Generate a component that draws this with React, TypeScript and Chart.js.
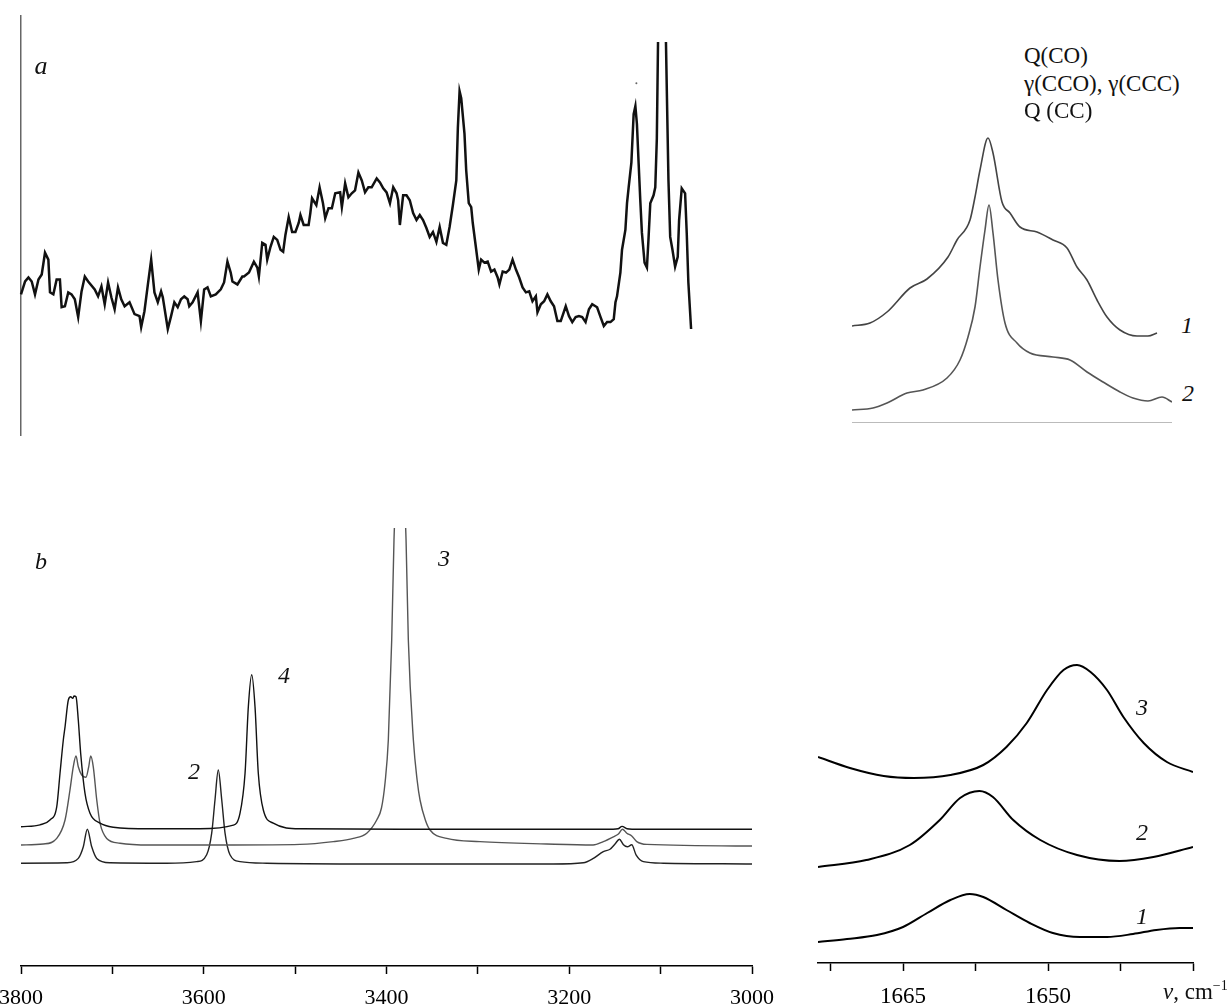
import React, { useEffect, useRef } from 'react';
import { Chart, registerables } from 'chart.js';

Chart.register(...registerables);

const SERIF = '"Liberation Serif", "Times New Roman", serif';

// ---------- Panel a (top left): experimental spectrum, [wavenumber, intensity] ----------
const spectrumA: [number, number][] = [
  [3802,142],[3797.5,155],[3793.8,159],[3790.2,155],[3786.6,142],[3782.8,157],[3779.2,162],[3775.6,184],[3771.9,177],[3770.1,144],
  [3766.4,142],[3762.8,157],[3759.2,157],[3757.3,129],[3753.7,130],[3750.0,144],[3746.4,142],[3742.8,137],[3739.1,119],[3735.4,145],
  [3731.8,160],[3728.1,155],[3720.9,147],[3717.2,140],[3713.5,150],[3709.9,132],[3706.2,154],[3702.6,139],[3699.0,127],[3695.3,149],
  [3691.7,137],[3688.0,130],[3682.6,134],[3677.1,122],[3671.6,120],[3669.8,109],[3666.2,125],[3662.4,152],[3658.8,177],[3655.2,144],
  [3651.5,134],[3647.9,145],[3646.0,139],[3640.5,107],[3636.9,120],[3633.3,134],[3629.6,129],[3626.0,137],[3622.4,140],[3618.7,137],
  [3616.9,130],[3613.2,134],[3607.7,144],[3604.1,115],[3600.5,147],[3596.8,149],[3593.2,140],[3587.7,142],[3582.2,147],[3578.6,154],
  [3574.9,175],[3571.3,164],[3569.4,155],[3563.9,152],[3558.5,160],
  [3556.7,160],[3551.2,164],[3545.8,175],[3542.0,169],[3540.3,160],[3536.6,194],[3533.0,192],[3531.1,177],[3527.5,190],[3523.9,200],
  [3520.1,197],[3516.5,187],[3513.6,185],[3511.1,202],[3507.5,220],[3503.7,205],[3500.1,205],[3496.5,214],[3494.6,222],[3491.0,212],
  [3485.6,212],[3483.7,224],[3481.8,239],[3477.1,232],[3473.5,250],[3469.8,234],[3467.3,219],[3463.7,229],[3460.0,229],[3456.3,244],
  [3450.9,245],[3449.0,230],[3445.4,254],[3441.8,240],[3438.1,244],[3434.5,247],[3430.8,265],[3427.1,257],[3423.5,245],[3419.9,250],
  [3416.2,250],[3410.7,259],[3407.1,255],[3403.5,249],[3399.8,245],[3396.1,234],[3392.5,250],[3388.8,244],[3387.1,237],[3385.2,212],
  [3381.6,242],[3377.9,242],[3374.3,237],[3370.6,224],[3366.9,217],[3363.3,222],[3359.7,217],[3356.0,209],[3352.4,200],[3348.8,205],
  [3345.0,195],[3341.4,210],[3337.8,194],[3334.1,192],[3330.5,210],[3326.9,232],[3323.1,257],[3321.4,310],[3319.5,347],[3317.7,340],
  [3314.1,304],[3312.2,267],[3309.4,234],[3306.7,230],[3305.0,214],[3301.2,187],[3298.4,167],
  [3295.8,177],[3292.2,174],[3288.6,175],[3284.8,165],[3281.2,167],[3277.6,159],[3275.7,152],[3272.1,165],[3268.4,164],[3264.8,167],
  [3261.2,177],[3257.5,167],[3253.9,159],[3250.2,149],[3246.5,144],[3242.9,145],[3239.3,135],[3235.6,140],[3233.8,124],[3230.1,132],
  [3226.5,135],[3222.9,142],[3219.2,135],[3215.6,130],[3211.9,115],[3208.2,115],[3202.7,130],[3199.1,120],[3195.5,114],[3191.8,119],
  [3188.2,120],[3184.6,119],[3180.9,114],[3177.2,127],[3173.6,132],[3168.2,129],[3164.4,119],[3160.8,110],[3157.2,114],[3153.5,114],
  [3149.9,117],[3148.0,134],[3146.3,140],[3142.6,164],[3140.8,187],[3137.1,207],[3135.3,234],[3133.5,250],[3130.5,275],[3128.0,324],
  [3126.1,332],[3124.4,314],[3122.5,274],[3120.7,237],[3118.9,204],[3116.0,174],[3113.4,169],[3111.6,199],[3109.7,234],[3106.1,242],
  [3104.2,250],[3102.5,299],[3100.6,440],[3093.3,440],[3091.5,347],[3089.7,257],[3087.8,200],[3085.3,187],[3082.4,170],[3079.5,180],
  [3078.0,217],[3075.1,249],[3071.4,244],[3069.6,204],[3067.8,154],[3064.8,107],
];
const strayDotA: [number, number][] = [[3125, 355]];

// ---------- Top right: band profiles 1 and 2, [channel, intensity] ----------
const bandProfile1: [number, number][] = [
  [0,97],[18,100],[35,111],[58,135],[75,144],[96,166],[105,183],[118,203],[123,226],[128,253],[136,285],[141,270],
  [150,221],[158,210],[168,196],[185,191],[201,183],[215,175],[225,156],[235,143],[245,123],[255,106],[268,93],
  [285,87],[296,87],[305,90],
];
const bandProfile2: [number, number][] = [
  [0,13],[21,15],[35,20],[55,30],[71,33],[95,45],[108,63],[116,86],[123,116],[128,156],[133,193],[137,218],[141,190],
  [146,143],[153,100],[165,80],[178,70],[201,66],[218,63],[235,51],[251,41],[268,31],[281,25],[296,22],[310,26],[320,21],
];
const bandBaseline: [number, number][] = [[0,0],[320,0]];

// ---------- Panel b (bottom left): calculated spectra 2, 3, 4, [wavenumber, intensity] ----------
const calc4: [number, number][] = [
  [3800,34.8],[3779.2,35.3],[3768.3,36.5],[3760.9,39.8],[3757.3,48.2],[3753.7,56.5],[3751.8,59.8],[3748.2,66.5],[3745.6,67.3],
  [3743.4,66.9],[3742.0,67.5],[3739.8,67.3],[3737.3,61.5],[3734.7,53.2],[3730.0,43.2],[3724.5,38.2],[3713.5,35.7],[3699.0,34.7],
  [3658.8,34.3],[3604.1,34.3],[3567.6,35.2],[3560.3,38.2],[3554.8,48.2],[3551.2,64.8],[3547.5,72.8],[3543.9,64.8],[3540.3,48.2],
  [3534.8,39.0],[3523.9,35.7],[3494.6,34.3],[3385.2,34.2],[3152.1,34.2],[3146.6,34.3],[3142.2,34.9],[3136.7,34.3],[3131.3,34.2],
  [3000,34.2],
];
const calc3: [number, number][] = [
  [3800,30.25],[3775.6,30.5],[3760.9,31.9],[3751.8,36.5],[3746.4,44],[3742.8,49.8],[3739.8,52.5],[3737.3,49.8],[3733.6,47.75],
  [3728.9,47.2],[3725.9,49.8],[3723.7,52.5],[3720.9,49.8],[3717.1,41.5],[3713.5,35.7],[3706.2,31.9],[3691.6,30.7],[3658.8,30.25],
  [3567.6,30.25],[3494.6,30.4],[3458.2,31.1],[3436.3,31.9],[3421.6,33.2],[3410.7,36.5],[3405.5,39.5],[3401.5,46],[3398,56.5],
  [3394.3,81.5],[3391.8,106.5],[3388.5,125],[3385.2,150],[3381.9,125],[3378.6,106.5],[3376.1,81.5],[3370.6,56.5],[3366.5,46.5],
  [3363.3,41.5],[3357.5,36.5],[3352.4,34],[3334.1,31.9],[3297.7,31.1],[3224.6,30.5],[3173.9,30.25],[3162.7,31.1],[3151.7,32.3],
  [3146.2,33],[3141.8,34.2],[3137,33.2],[3131.6,32.5],[3126.1,31.1],[3115.2,30.4],[3000,30],
];
const calc2: [number, number][] = [
  [3800,25.7],[3750.0,25.8],[3737.3,26.9],[3731.8,29.8],[3727.4,34.2],[3722.6,29.8],[3717.1,26.9],[3702.6,25.8],[3640.5,25.7],
  [3607.7,26.1],[3596.8,27.8],[3591.3,33.2],[3587.7,41.5],[3584.1,49.0],[3580.3,41.5],[3576.7,33.2],[3571.3,27.8],[3560.3,26.1],
  [3531.1,25.7],[3385.2,25.5],[3217.4,25.5],[3184.6,25.8],[3173.6,26.9],[3162.7,28.6],[3155.4,29.2],[3149.9,30.5],[3145.1,31.7],
  [3140.7,30.3],[3136.4,29.8],[3131.6,30.3],[3126.9,27.8],[3118.9,26.1],[3097.0,25.7],[3000,25.5],
];
const ticksB = [3800, 3600, 3400, 3200, 3000];

// ---------- Bottom right: bands 1, 2, 3 near 1650 cm-1, [wavenumber, intensity] ----------
const band1: [number, number][] = [
  [1673.8,21],[1670.8,24],[1667.7,28],[1665.0,36],[1662.5,50],[1660.1,63],[1658.1,69],[1656.7,66],[1654.3,53],[1651.9,40],
  [1649.5,30],[1646.7,26],[1643.9,26],[1641.2,29],[1638.8,33],[1636.4,35],[1635.0,35],
];
const band2: [number, number][] = [
  [1673.8,96],[1668.8,103],[1664.3,118],[1661.2,143],[1659.1,165],[1657.1,172],[1655.7,166],[1653.6,143],[1650.8,123],
  [1647.0,108],[1642.6,102],[1639.1,106],[1635.0,116],
];
const band3: [number, number][] = [
  [1673.8,206],[1670.5,195],[1667.0,187],[1663.9,185],[1660.1,188],[1656.7,198],[1654.3,216],[1652.2,240],[1650.1,273],
  [1648.4,293],[1647.0,298],[1645.6,291],[1643.9,273],[1642.2,246],[1640.1,220],[1637.7,201],[1635.0,191],
];
const ticksC = [1665, 1650];

const pts = (a: [number, number][]) => a.map(([x, y]) => ({ x, y }));

const line = (data: [number, number][], color: string, width: number, smooth: boolean, clip?: any) => ({
  data: pts(data),
  borderColor: color,
  borderWidth: width,
  pointRadius: 0,
  fill: false,
  tension: 0,
  cubicInterpolationMode: smooth ? 'monotone' : 'default',
  ...(clip ? { clip } : {}),
});

const basePlugins = { legend: { display: false }, tooltip: { enabled: false }, title: { display: false } };

function PanelChart(props: { left: number; top: number; width: number; height: number; make: () => any }) {
  const ref = useRef<HTMLCanvasElement>(null);
  useEffect(() => {
    const chart = new Chart(ref.current as HTMLCanvasElement, props.make());
    return () => chart.destroy();
  }, []);
  return (
    <canvas
      ref={ref}
      width={props.width}
      height={props.height}
      style={{ position: 'absolute', left: props.left, top: props.top, width: props.width, height: props.height }}
    />
  );
}

function Label(props: { x: number; y: number; size?: number; italic?: boolean; align?: 'center' | 'left'; children: any }) {
  const { x, y, size = 24, italic = false, align = 'center' } = props;
  return (
    <div
      style={{
        position: 'absolute',
        left: x,
        top: y,
        transform: align === 'center' ? 'translate(-50%, -50%)' : 'translate(0, -50%)',
        fontFamily: SERIF,
        fontSize: size,
        fontStyle: italic ? 'italic' : 'normal',
        lineHeight: 1,
        whiteSpace: 'nowrap',
        color: '#111',
      }}
    >
      {props.children}
    </div>
  );
}

const makeA = () => ({
  type: 'line',
  data: {
    datasets: [
      line(spectrumA, '#111', 2.5, false, { left: 2, right: 2, top: -26, bottom: 2 }),
      { data: pts(strayDotA), showLine: false, pointRadius: 1, pointBackgroundColor: '#666', pointBorderWidth: 0 },
    ],
  },
  options: {
    responsive: false,
    animation: false,
    events: [],
    layout: { padding: { left: 2, right: 2, top: 2, bottom: 2 } },
    plugins: basePlugins,
    scales: {
      x: { type: 'linear', min: 3000, max: 3802, reverse: true, display: false },
      y: {
        type: 'linear',
        min: 0,
        max: 423,
        display: true,
        grid: { display: false, drawTicks: false },
        ticks: { display: false },
        border: { display: true, color: '#666', width: 1.5 },
        afterFit: (s: any) => { s.width = 0; },
      },
    },
  },
});

const makeTR = () => ({
  type: 'line',
  data: {
    datasets: [
      line(bandBaseline, '#777', 1, false),
      line(bandProfile1, '#444', 1.6, true),
      line(bandProfile2, '#555', 1.6, true),
    ],
  },
  options: {
    responsive: false,
    animation: false,
    events: [],
    layout: { padding: 2 },
    plugins: basePlugins,
    scales: {
      x: { type: 'linear', min: 0, max: 320, display: false },
      y: { type: 'linear', min: 0, max: 300, display: false },
    },
  },
});

const makeB = () => ({
  type: 'line',
  data: {
    datasets: [
      line(calc4, '#111', 1.4, true),
      line(calc3, '#555', 1.4, true, { left: 2, right: 2, top: 0, bottom: 2 }),
      line(calc2, '#222', 1.4, true),
    ],
  },
  options: {
    responsive: false,
    animation: false,
    events: [],
    layout: { padding: { left: 41, right: 40, top: 0, bottom: 0 } },
    plugins: basePlugins,
    scales: {
      x: {
        type: 'linear',
        min: 3000,
        max: 3800,
        reverse: true,
        border: { display: true, color: '#000', width: 1.5 },
        grid: { display: true, drawOnChartArea: false, drawTicks: true, tickLength: 8, tickColor: '#000', tickWidth: 1.5 },
        ticks: {
          stepSize: 100,
          autoSkip: false,
          maxRotation: 0,
          color: '#000',
          font: { family: SERIF, size: 22 },
          padding: 11,
          callback: (v: number) => (ticksB.includes(v) ? String(v) : ''),
        },
        afterFit: (s: any) => { s.height = 42; },
      },
      y: { type: 'linear', min: 0, max: 109.5, display: false },
    },
  },
});

const makeC = () => ({
  type: 'line',
  data: {
    datasets: [
      line(band3, '#000', 2, true),
      line(band2, '#000', 2, true),
      line(band1, '#000', 2, true),
    ],
  },
  options: {
    responsive: false,
    animation: false,
    events: [],
    layout: { padding: { left: 40, right: 38, top: 0, bottom: 0 } },
    plugins: basePlugins,
    scales: {
      x: {
        type: 'linear',
        min: 1635,
        max: 1673.8,
        reverse: true,
        border: { display: true, color: '#000', width: 1.5 },
        grid: { display: true, drawOnChartArea: false, drawTicks: true, tickLength: 8, tickColor: '#000', tickWidth: 1.5 },
        ticks: {
          stepSize: 7.5,
          includeBounds: false,
          autoSkip: false,
          maxRotation: 0,
          color: '#000',
          font: { family: SERIF, size: 23 },
          padding: 12,
          callback: (v: number) => (ticksC.includes(v) ? String(v) : ''),
        },
        afterFit: (s: any) => { s.height = 45; },
      },
      y: { type: 'linear', min: 0, max: 313, display: false },
    },
  },
});

export default function App() {
  return (
    <div style={{ position: 'absolute', left: 0, top: 0, width: 1231, height: 1008, background: '#fff', overflow: 'hidden' }}>
      <PanelChart left={17} top={12} width={737} height={427} make={makeA} />
      <PanelChart left={850} top={121} width={324} height={304} make={makeTR} />
      <PanelChart left={-20} top={528} width={812} height={480} make={makeB} />
      <PanelChart left={778} top={650} width={453} height={358} make={makeC} />

      <Label x={41} y={66} size={26} italic>a</Label>
      <Label x={41} y={561} size={24} italic>b</Label>
      <Label x={284} y={675} italic>4</Label>
      <Label x={194} y={771} italic>2</Label>
      <Label x={444} y={558} italic>3</Label>

      <Label x={1024} y={55} size={23} align="left">Q(CO)</Label>
      <Label x={1024} y={83} size={23} align="left">γ(CCO), γ(CCC)</Label>
      <Label x={1024} y={110} size={23} align="left">Q (CC)</Label>
      <Label x={1187} y={325} italic>1</Label>
      <Label x={1188} y={393} italic>2</Label>

      <Label x={1142} y={707} italic>3</Label>
      <Label x={1142} y={832} italic>2</Label>
      <Label x={1142} y={916} italic>1</Label>

      <Label x={1163} y={991} size={23} align="left">
        <span style={{ fontStyle: 'italic' }}>ν</span>, cm
        <span style={{ fontSize: 14, position: 'relative', top: -9 }}>−1</span>
      </Label>
    </div>
  );
}
